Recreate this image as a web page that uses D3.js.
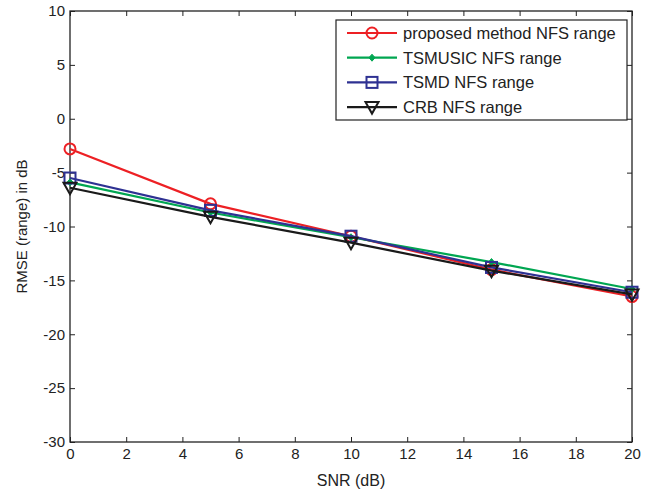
<!DOCTYPE html>
<html>
<head>
<meta charset="utf-8">
<script src="https://cdn.jsdelivr.net/npm/d3@7"></script>
<style>
  body { margin: 0; background: #fff; }
  text { font-family: "Liberation Sans", Arial, sans-serif; }
</style>
</head>
<body>
<svg id="chart" width="661" height="495"></svg>
<script>
// data
const snr = [0, 5, 10, 15, 20];
const proposed = [-2.8, -7.9, -10.9, -14.0, -16.5];
const tsmusic  = [-5.9, -8.7, -11.0, -13.3, -15.8];
const tsmd     = [-5.5, -8.5, -10.9, -13.8, -16.1];
const crb      = [-6.4, -9.1, -11.5, -14.1, -16.3];
const xTicks = [0, 2, 4, 6, 8, 10, 12, 14, 16, 18, 20];
const yTicks = [-30, -25, -20, -15, -10, -5, 0, 5, 10];

const series = [
  { name: "proposed method NFS range", values: proposed, color: "#ed2024", marker: "circle" },
  { name: "TSMUSIC NFS range",         values: tsmusic,  color: "#00a651", marker: "diamond" },
  { name: "TSMD NFS range",            values: tsmd,     color: "#2e3192", marker: "square" },
  { name: "CRB NFS range",             values: crb,      color: "#1a1a1a", marker: "triangle" }
];

const margin = { left: 70, top: 11, right: 29, bottom: 53 };
const W = 661, H = 495;
const w = W - margin.left - margin.right;
const h = H - margin.top - margin.bottom;

const svg = d3.select("#chart");
const g = svg.append("g").attr("transform", `translate(${margin.left},${margin.top})`);

const x = d3.scaleLinear().domain([0, 20]).range([0, w]);
const y = d3.scaleLinear().domain([-30, 10]).range([h, 0]);

// box
g.append("rect").attr("width", w).attr("height", h)
  .attr("fill", "none").attr("stroke", "#222").attr("stroke-width", 1.3);

// axes, ticks inward (matlab style), plain hyphen for minus
const fmt = d => String(d);
function styleAxis(sel) {
  sel.select(".domain").remove();
  sel.selectAll("line").attr("stroke", "#222");
  sel.selectAll("text").attr("font-size", 15).attr("fill", "#222");
}
g.append("g").attr("transform", `translate(0,${h})`)
  .call(d3.axisBottom(x).tickValues(xTicks).tickSize(-5).tickPadding(6).tickFormat(fmt))
  .call(styleAxis);
g.append("g")
  .call(d3.axisTop(x).tickValues(xTicks).tickSize(-5).tickFormat(""))
  .call(styleAxis);
g.append("g")
  .call(d3.axisLeft(y).tickValues(yTicks).tickSize(-5).tickPadding(5).tickFormat(fmt))
  .call(styleAxis);
g.append("g").attr("transform", `translate(${w},0)`)
  .call(d3.axisRight(y).tickValues(yTicks).tickSize(-5).tickFormat(""))
  .call(styleAxis);

// axis labels
svg.append("text").attr("x", margin.left + w / 2).attr("y", 486)
  .attr("text-anchor", "middle").attr("font-size", 16).attr("fill", "#222")
  .text("SNR (dB)");
svg.append("text").attr("transform", `translate(27,${margin.top + h / 2}) rotate(-90)`)
  .attr("text-anchor", "middle").attr("font-size", 15).attr("fill", "#222")
  .text("RMSE (range) in dB");

// markers
function drawMarker(sel, type, color) {
  if (type === "circle") {
    sel.append("circle").attr("r", 5.5).attr("fill", "none")
      .attr("stroke", color).attr("stroke-width", 2);
  } else if (type === "square") {
    sel.append("rect").attr("x", -5.5).attr("y", -5.5).attr("width", 11).attr("height", 11)
      .attr("fill", "none").attr("stroke", color).attr("stroke-width", 2);
  } else if (type === "triangle") {
    sel.append("path").attr("d", "M-6.5,-5 L6.5,-5 L0,6.5 Z")
      .attr("fill", "none").attr("stroke", color).attr("stroke-width", 2);
  } else if (type === "diamond") {
    sel.append("path").attr("d", "M0,-3.5 L3,0 L0,3.5 L-3,0 Z")
      .attr("fill", color).attr("stroke", color).attr("stroke-width", 1);
  }
}

const line = d3.line().x((d, i) => x(snr[i])).y(d => y(d));

series.forEach(s => {
  g.append("path").datum(s.values).attr("d", line)
    .attr("fill", "none").attr("stroke", s.color).attr("stroke-width", 2.2);
  s.values.forEach((v, i) => {
    const m = g.append("g").attr("transform", `translate(${x(snr[i])},${y(v)})`);
    drawMarker(m, s.marker, s.color);
  });
});

// legend
const lg = svg.append("g").attr("transform", "translate(336,20)");
lg.append("rect").attr("width", 291).attr("height", 100)
  .attr("fill", "#fff").attr("stroke", "#222").attr("stroke-width", 1.2);
series.forEach((s, i) => {
  const row = lg.append("g").attr("transform", `translate(0,${13 + i * 24.7})`);
  row.append("line").attr("x1", 11).attr("x2", 61).attr("stroke", s.color).attr("stroke-width", 2.2);
  drawMarker(row.append("g").attr("transform", "translate(36,0)"), s.marker, s.color);
  row.append("text").attr("x", 67).attr("y", 6).attr("font-size", 16.5).attr("fill", "#222")
    .text(s.name);
});
</script>
</body>
</html>
